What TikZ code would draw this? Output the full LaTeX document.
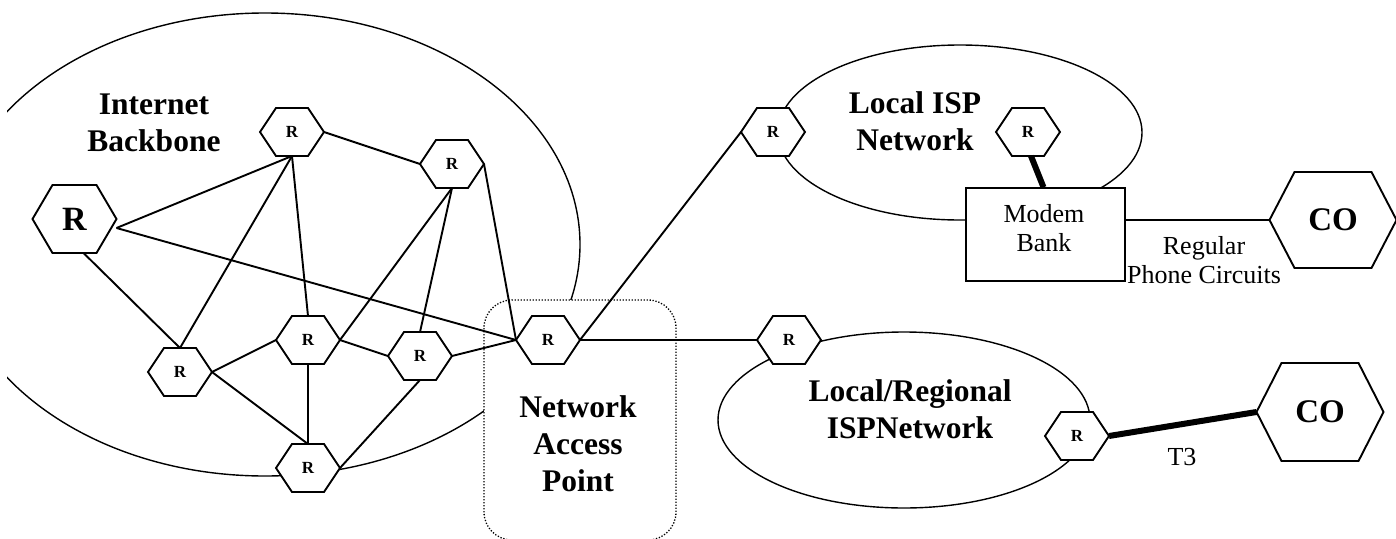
\documentclass[tikz,border=0pt]{standalone}
\usepackage{fontspec}
\setmainfont{Liberation Serif}

\pgfdeclarelayer{back}
\pgfdeclarelayer{hexes}
\pgfsetlayers{back,hexes,main}

% Router / central office: a hexagon with pointed left and right ends.
% #1 name, #2 centre, #3 width, #4 height, #5 corner inset, #6 font, #7 label
\newcommand\hexrouter[7]{%
  \node[hexcore, minimum width=#3, minimum height=#4, font=#6] (#1) at (#2) {#7};
  \begin{pgfonlayer}{hexes}
    \draw[hexline] (#1.west) -- ([xshift=#5]#1.north west) -- ([xshift=-#5]#1.north east)
      -- (#1.east) -- ([xshift=-#5]#1.south east) -- ([xshift=#5]#1.south west) -- cycle;
  \end{pgfonlayer}}

\begin{document}
\begin{tikzpicture}[x=1pt, y=-1pt,
  hexcore/.style={inner sep=0pt, outer sep=0pt, shape=rectangle},
  hexline/.style={draw=black, fill=white, line width=1.9pt, line join=miter},
  link/.style={draw=black, line width=1.9pt},
  trunk/.style={draw=black, line width=6pt},
  ring/.style={draw=black, line width=1.4pt},
  napbox/.style={draw=black, fill=white, line width=1.3pt,
    dash pattern=on 1.3pt off 1.7pt, rounded corners=28pt},
  title/.style={font=\bfseries\fontsize{31.5}{37}\selectfont, align=center},
  plain/.style={font=\fontsize{26}{29.5}\selectfont, align=center},
  rfont/.style={font=\bfseries\fontsize{17}{17}\selectfont},
]
\useasboundingbox (0,0) rectangle (1396,538);
\clip (7,0) rectangle (1396,538);

% --- routers and central offices
\hexrouter{bigR}{74.5,219}{84pt}{68pt}{20pt}{\bfseries\fontsize{34}{34}\selectfont}{R}
\hexrouter{ra}{292,132}{64pt}{48pt}{16pt}{\bfseries\fontsize{17}{17}\selectfont}{R}
\hexrouter{rb}{452,164}{64pt}{48pt}{16pt}{\bfseries\fontsize{17}{17}\selectfont}{R}
\hexrouter{rc}{180,372}{64pt}{48pt}{16pt}{\bfseries\fontsize{17}{17}\selectfont}{R}
\hexrouter{rd}{308,340}{64pt}{48pt}{16pt}{\bfseries\fontsize{17}{17}\selectfont}{R}
\hexrouter{re}{420,356}{64pt}{48pt}{16pt}{\bfseries\fontsize{17}{17}\selectfont}{R}
\hexrouter{rf}{308,468}{64pt}{48pt}{16pt}{\bfseries\fontsize{17}{17}\selectfont}{R}
\hexrouter{nap}{548,340}{64pt}{48pt}{16pt}{\bfseries\fontsize{17}{17}\selectfont}{R}
\hexrouter{isp}{773,132}{64pt}{48pt}{16pt}{\bfseries\fontsize{17}{17}\selectfont}{R}
\hexrouter{reg}{789,340}{64pt}{48pt}{16pt}{\bfseries\fontsize{17}{17}\selectfont}{R}
\hexrouter{ispin}{1028,132}{64pt}{48pt}{16pt}{\bfseries\fontsize{17}{17}\selectfont}{R}
\hexrouter{regout}{1077,436}{64pt}{48pt}{16pt}{\bfseries\fontsize{17}{17}\selectfont}{R}
\hexrouter{coa}{1333,220}{127pt}{96pt}{25pt}{\bfseries\fontsize{33}{33}\selectfont}{CO}
\hexrouter{cob}{1320,412}{127pt}{98pt}{25pt}{\bfseries\fontsize{33}{33}\selectfont}{CO}

% --- network clouds and the access point frame
\begin{pgfonlayer}{back}
  \clip (7,0) rectangle (1396,538);
  \draw[ring] (265,244.5) ellipse [x radius=315pt, y radius=231.5pt];
  \draw[ring] (960,132.5) ellipse [x radius=182pt, y radius=87.5pt];
  \draw[ring] (904,420) ellipse [x radius=186pt, y radius=88pt];
  \draw[napbox] (484,300) rectangle (676,540);
\end{pgfonlayer}

% --- modem bank
\node[draw=black, fill=white, line width=1.5pt, inner sep=0pt,
      minimum width=159pt, minimum height=93pt] (mb) at (1045.5,234.5) {};
\node[plain] (mbtext) at (1044,228) {Modem\\Bank};

% --- labels
\node[title] (lblbackbone) at (154,123) {Internet\\Backbone};
\node[title] (lblisp) at (915,121) {Local ISP\\Network};
\node[title] (lblnap) at (578,444) {Network\\Access\\Point};
\node[title] (lblreg) at (910,409) {Local/Regional\\ISPNetwork};
\node[plain] (lblphone) at (1204,260) {Regular\\Phone Circuits};
\node[plain, anchor=base] (lblt3) at (1182,465) {T3};

% --- backbone mesh
\coordinate (bigRout) at ([yshift=-9pt]bigR.east);
\draw[link] (bigRout) -- (ra.south);
\draw[link] (bigRout) -- (nap.west);
\draw[link] ([xshift=9pt]bigR.south) -- (rc.north);
\draw[link] (ra.south) -- (rc.north);
\draw[link] (ra.south) -- (rd.north);
\draw[link] (ra.east) -- (rb.west);
\draw[link] (rb.south) -- (rd.east);
\draw[link] (rb.south) -- (re.north);
\draw[link] (rb.east) -- (nap.west);
\draw[link] (rc.east) -- (rd.west);
\draw[link] (rc.east) -- (rf.north);
\draw[link] (rd.south) -- (rf.north);
\draw[link] (rd.east) -- (re.west);
\draw[link] (re.east) -- (nap.west);
\draw[link] (re.south) -- (rf.east);

% --- access point to the ISPs
\draw[link] (nap.east) -- (isp.west);
\draw[link] (nap.east) -- (reg.west);

% --- ISP side
\draw[trunk] ([xshift=3pt]ispin.south) -- ([xshift=-2pt]mb.north);
\draw[link] (coa.west -| mb.east) -- (coa.west);
\draw[trunk] (regout.east) -- (cob.west);
\end{tikzpicture}
\end{document}
